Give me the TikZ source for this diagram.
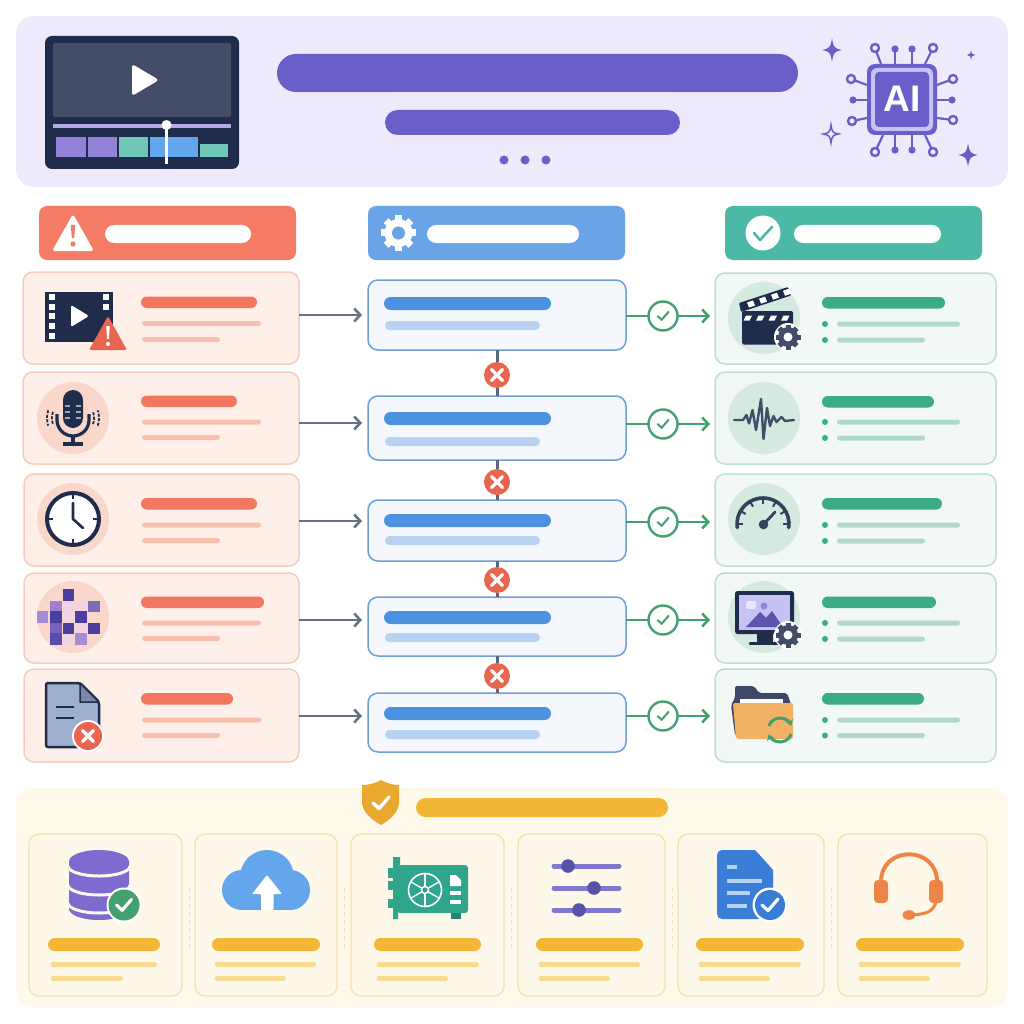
\documentclass[tikz,border=0pt]{standalone}
\usepackage{fontspec}
\setsansfont{Liberation Sans}
\usetikzlibrary{arrows.meta,calc}
\definecolor{hdrbg}{HTML}{EEEAFB}
\definecolor{violet}{HTML}{6A5FC9}
\definecolor{chipring}{HTML}{C6C2F3}
\definecolor{navy}{HTML}{202C4C}
\definecolor{slate}{HTML}{434D68}
\definecolor{redhead}{HTML}{F47C64}
\definecolor{redcard}{HTML}{FEF0E9}
\definecolor{redline}{HTML}{F5CDBF}
\definecolor{redbar}{HTML}{F17760}
\definecolor{redsub}{HTML}{F8BFAC}
\definecolor{redhalo}{HTML}{F9D7CA}
\definecolor{redmark}{HTML}{E8654F}
\definecolor{bluehead}{HTML}{6AA3E6}
\definecolor{bluecard}{HTML}{F4F8FD}
\definecolor{blueline}{HTML}{6F9FD4}
\definecolor{bluebar}{HTML}{4C92E0}
\definecolor{bluesub}{HTML}{B7D3F1}
\definecolor{greenhead}{HTML}{4BB9A5}
\definecolor{greencard}{HTML}{F1F8F5}
\definecolor{greenline}{HTML}{C0DDD2}
\definecolor{greenbar}{HTML}{3BAB88}
\definecolor{greensub}{HTML}{B2D8C9}
\definecolor{greenhalo}{HTML}{D4E9E0}
\definecolor{greenlink}{HTML}{43A070}
\definecolor{graylink}{HTML}{667287}
\definecolor{amberbg}{HTML}{FEF9EB}
\definecolor{ambercard}{HTML}{FEF8EA}
\definecolor{amberline}{HTML}{F4E0A8}
\definecolor{amberbar}{HTML}{F3B636}
\definecolor{ambersub}{HTML}{F7DB90}
\definecolor{dbviolet}{HTML}{7E6BD0}
\definecolor{cloudblue}{HTML}{63A6EC}
\definecolor{gpugreen}{HTML}{2FA58B}
\definecolor{docblue}{HTML}{3A7DD6}
\definecolor{docgrey}{HTML}{9DB0CE}
\definecolor{foldergold}{HTML}{F2B266}
\definecolor{headset}{HTML}{EE8548}
\definecolor{shieldgold}{HTML}{E9A92F}
\definecolor{tilepale}{HTML}{F1D3E2}
\tikzset{
  x=1pt,y=-1pt,
  cardbase/.style={draw,line width=1.5pt,rounded corners=10pt,inner sep=0pt,outer sep=0pt},
  redpanel/.style={cardbase,fill=redcard,draw=redline},
  bluepanel/.style={cardbase,fill=bluecard,draw=blueline},
  greenpanel/.style={cardbase,fill=greencard,draw=greenline},
  amberpanel/.style={cardbase,fill=ambercard,draw=amberline,line width=1.3pt},
  grayarrow/.style={draw=graylink,line width=2.6pt,-{Straight Barb[length=6pt,width=13pt]},shorten >=6pt},
  greenarrow/.style={draw=greenlink,line width=2.6pt,-{Straight Barb[length=6pt,width=13pt]},shorten >=5pt},
  greenlead/.style={draw=greenlink,line width=2.6pt},
  downlink/.style={draw=graylink!90!black,line width=3pt},
  okmark/.style={circle,draw=greenlink,line width=2.4pt,fill=white,minimum size=29pt,inner sep=0pt,outer sep=0pt},
  xmark/.style={circle,fill=redmark,minimum size=26pt,inner sep=0pt,outer sep=0pt},
}
% a named rounded panel spanning x1..x2, y1..y2
\newcommand\panelbox[6]{%
  \node[#1,minimum width={(#4)-(#3)},minimum height={(#6)-(#5)}] (#2) at ({((#3)+(#4))/2},{((#5)+(#6))/2}) {};}
% a pill-shaped bar spanning x1..x2, y1..y2
\newcommand\pill[5]{%
  \pgfmathsetmacro\pillr{((#4)-(#3))/2}%
  \fill[#5,rounded corners=\pillr pt] (#1,#3) rectangle (#2,#4);}
% toothed wheel: x, y, radius, body colour, hole colour, hole radius
\newcommand\cog[6]{%
  \foreach \ang in {0,45,...,315}{%
    \fill[#4,rotate around={\ang:(#1,#2)}] ({#1-0.2*#3},{#2-#3}) rectangle ({#1+0.2*#3},#2);}
  \fill[#4] (#1,#2) circle[radius={0.8*#3*1pt}];
  \fill[#5] (#1,#2) circle[radius=#6pt];}
% four-pointed star
\newcommand\sparkpath[3]{%
  [shift={(#1,#2)},scale=#3] (0,-1) .. controls (.12,-.2) and (.2,-.12) .. (.85,0) .. controls (.2,.12) and (.12,.2) .. (0,1) .. controls (-.12,.2) and (-.2,.12) .. (-.85,0) .. controls (-.2,-.12) and (-.12,-.2) .. (0,-1) -- cycle}
% tick inside a badge
\newcommand\tick[5]{\draw[#4,line width=#5pt,line cap=round,line join=round] ({#1-#3},#2) -- ({#1-0.25*#3},{#2+0.7*#3}) -- ({#1+#3},{#2-0.75*#3});}
% cross inside a badge
\newcommand\cross[5]{\draw[#4,line width=#5pt,line cap=round] ({#1-#3},{#2-#3}) -- ({#1+#3},{#2+#3}) ({#1-#3},{#2+#3}) -- ({#1+#3},{#2-#3});}
% circuit pins of the chip: open ring or solid dot
\newcommand\ringpin[4]{\draw[violet,line width=2.2pt,line join=round] (#3,#4) -- (#1,#2); \draw[violet,line width=2.4pt,fill=hdrbg] (#1,#2) circle[radius=4pt];}
\newcommand\dotpin[4]{\draw[violet,line width=2.2pt] (#3,#4) -- (#1,#2); \fill[violet] (#1,#2) circle[radius=3.6pt];}
\begin{document}
\begin{tikzpicture}
\useasboundingbox (0,0) rectangle (1024,1024);
\fill[white] (0,0) rectangle (1024,1024);

% ---- header band ----
\fill[hdrbg,rounded corners=18pt] (16,16) rectangle (1008,187);
\fill[navy,rounded corners=7pt] (45,36) rectangle (239,169);
\fill[slate,rounded corners=2pt] (53,43) rectangle (231,117);
\fill[white,rounded corners=3pt] (132,64) -- (159,80) -- (132,96) -- cycle;
\fill[hdrbg!55!violet] (53,124.5) rectangle (231,128);
\fill[dbviolet!85!white] (56,137) rectangle (85.5,157);
\fill[dbviolet!85!white] (87.5,137) rectangle (117,157);
\fill[greenhead!80!white] (119,137) rectangle (147.5,157);
\fill[cloudblue] (149.5,137) rectangle (198,157);
\fill[greenhead!80!white] (199.5,144) rectangle (228,157);
\draw[white,line width=3pt] (166.5,125) -- (166.5,164);
\fill[white] (166.5,125) circle[radius=5pt];
\pill{277}{798}{54}{92}{violet}
\pill{385}{680}{110}{135}{violet}
\foreach \dx in {504,525,546}{\fill[violet] (\dx,160) circle[radius=4.5pt];}

% chip emblem
\ringpin{875}{48}{881}{64}
\dotpin{895}{49}{895}{64}
\dotpin{912}{49}{912}{64}
\ringpin{933}{48}{925}{64}
\ringpin{851}{79}{867}{85}
\dotpin{853}{100}{867}{100}
\ringpin{852}{121}{867}{118}
\ringpin{953}{79}{937}{85}
\dotpin{952}{100}{937}{100}
\ringpin{953}{120}{937}{118}
\ringpin{875}{152}{883}{135}
\dotpin{895}{150}{895}{135}
\dotpin{912}{150}{912}{135}
\ringpin{933}{152}{925}{135}
\fill[violet,rounded corners=8pt] (867,64) rectangle (937,135);
\fill[chipring,rounded corners=6pt] (871,68) rectangle (933,131);
\fill[violet,rounded corners=4pt] (875,72) rectangle (929,127);
\node[text=white,font=\sffamily\bfseries\fontsize{37}{37}\selectfont,inner sep=0pt] (chiplabel) at (902,99) {AI};
\fill[violet] \sparkpath{832}{50}{12};
\fill[violet] \sparkpath{971}{55}{5};
\fill[violet] \sparkpath{968}{155}{12};
\draw[violet,line width=1.5pt,fill=hdrbg] \sparkpath{831}{134}{9};

% ---- column heads ----
\fill[redhead,rounded corners=8pt] (39,206) rectangle (296,260);
\fill[white,rounded corners=3pt] (73,214) -- (94,251) -- (52,251) -- cycle;
\fill[redhead] (70.8,225) -- (75.2,225) -- (74.2,238) -- (71.8,238) -- cycle;
\fill[redhead] (73,244) circle[radius=2.6pt];
\pill{105}{251}{225}{243}{white}

\fill[bluehead,rounded corners=8pt] (368,206) rectangle (625,260);
\cog{398.5}{233}{17.5}{white}{bluehead}{6.5}
\pill{427}{579}{225}{243}{white}

\fill[greenhead,rounded corners=8pt] (725,206) rectangle (982,260);
\fill[white] (763,233) circle[radius=17.5pt];
\draw[greenhead,line width=2.6pt,line cap=round,line join=round] (754,233) -- (760,240) -- (772,227);
\pill{794}{941}{225}{243}{white}

% ---- problem cards ----
\panelbox{redpanel}{p1}{23}{299}{272}{364}
\panelbox{redpanel}{p2}{23}{299}{372}{464}
\panelbox{redpanel}{p3}{24}{299}{474}{566}
\panelbox{redpanel}{p4}{24}{299}{573}{663}
\panelbox{redpanel}{p5}{24}{299}{669}{762}
\foreach \xe/\ya/\yb/\yc in {257/296.5/323.5/339.5, 237/395.5/422/437.5, 257/498/525/540.5, 264/596.5/623/638.5, 233/693/720/735.5}{
  \pill{141}{\xe}{\ya}{\ya+11.5}{redbar}
  \pill{142}{261}{\yb-2.5}{\yb+2.5}{redsub}
  \pill{142}{220}{\yc-2.5}{\yc+2.5}{redsub}
}

% film strip with warning
\fill[navy] (45,292) rectangle (113,342);
\foreach \py in {297,307,316,326,336}{\fill[white] (49,\py-3) rectangle (55,\py+3);}
\foreach \py in {297,307}{\fill[white] (103,\py-3) rectangle (109,\py+3);}
\fill[white,rounded corners=1.5pt] (71,305) -- (89,316) -- (71,327) -- cycle;
\fill[redmark,rounded corners=1.5pt] (108,316) -- (127,350) -- (89,350) -- cycle;
\fill[white] (106.3,326) -- (109.7,326) -- (109,339) -- (107,339) -- cycle;
\fill[white] (108,344) circle[radius=2.1pt];

% microphone
\fill[redhalo] (73,418) circle[radius=36pt];
\fill[navy,rounded corners=10pt] (63,390) rectangle (83,428);
\foreach \gy in {406,412,418}{
  \draw[slate!50!white,line width=1.2pt] (65,\gy) -- (70,\gy) (76,\gy) -- (81,\gy);}
\draw[navy,line width=3.2pt] (57,414) -- (57,420) arc[start angle=180,end angle=360,radius=16pt] -- (89,414);
\draw[navy,line width=3.2pt] (73,436) -- (73,444);
\draw[navy,line width=3.2pt] (63,444) -- (83,444);
\foreach \rr in {21,26}{
  \draw[navy,line width=1.8pt,dash pattern=on 3pt off 1.5pt] ($(73,418)+(163:\rr pt)$) arc[start angle=163,end angle=197,radius=\rr pt];
  \draw[navy,line width=1.8pt,dash pattern=on 3pt off 1.5pt] ($(73,418)+(-17:\rr pt)$) arc[start angle=-17,end angle=17,radius=\rr pt];
}

% clock
\fill[redhalo] (73,519) circle[radius=36pt];
\draw[navy,line width=4pt,fill=white] (73,519) circle[radius=26pt];
\draw[navy,line width=2pt] (73,493) -- (73,499) (73,539) -- (73,545) (47,519) -- (53,519) (93,519) -- (99,519);
\draw[navy,line width=2.6pt,line join=round,line cap=round] (73,503) -- (73,519) -- (83,528);

% pixelated tile
\fill[redhalo] (73,617) circle[radius=36pt];
\foreach \zx/\zy in {128/392,166/392,128/424,166/458,128/490}{
  \fill[tilepale] ({20+\zx/3},{470+\zy/3}) rectangle ++(11.5,11.5);}
\foreach \zx/\zy/\cc in {128/358/4B3F9E,90/392/9A80CE,204/392/7F6CB8,50/424/A68BD8,90/424/4B3F9E,166/424/4B3F9E,90/458/7A62BC,128/458/4B3F9E,204/458/4B3F9E,90/490/5A4CAC,166/490/A68BD8}{
  \definecolor{tilec}{HTML}{\cc}
  \fill[tilec] ({20+\zx/3},{470+\zy/3}) rectangle ++(11.5,11.5);}

% damaged document
\draw[navy,line width=2.5pt,fill=docgrey,rounded corners=2pt] (46,683) -- (80,683) -- (99,702) -- (99,747) -- (46,747) -- cycle;
\fill[docgrey!70!navy,draw=navy,line width=1.5pt,line join=round] (80,683) -- (80,702) -- (99,702) -- cycle;
\draw[navy,line width=2.4pt] (56,707) -- (74,707) (56,718) -- (74,718);
\fill[white] (88,736) circle[radius=16pt];
\fill[redmark] (88,736) circle[radius=14pt];
\cross{88}{736}{5.5}{white}{3.2}

% ---- process column ----
\panelbox{bluepanel}{m1}{368}{626}{280}{350}
\panelbox{bluepanel}{m2}{368}{626}{396}{460}
\panelbox{bluepanel}{m3}{368}{626}{500}{561}
\panelbox{bluepanel}{m4}{368}{626}{597}{656}
\panelbox{bluepanel}{m5}{368}{626}{693}{752}
\foreach \ya/\yb in {297/321,412/437,514/536,611/633,707/730}{
  \pill{384}{551}{\ya}{\ya+13}{bluebar}
  \pill{385}{540}{\yb}{\yb+9}{bluesub}
}

% ---- outcome cards ----
\panelbox{greenpanel}{r1}{715}{996}{273}{364}
\panelbox{greenpanel}{r2}{715}{996}{372}{464}
\panelbox{greenpanel}{r3}{715}{996}{474}{566}
\panelbox{greenpanel}{r4}{715}{996}{573}{663}
\panelbox{greenpanel}{r5}{715}{996}{669}{762}
\foreach \xe/\ya/\yb/\yc in {945/297/324/340, 934/396/422/438, 942/498/525/541, 936/596.5/623/639, 924/693/720/735.5}{
  \pill{822}{\xe}{\ya}{\ya+11.5}{greenbar}
  \fill[greenbar] (825,\yb) circle[radius=3pt];
  \fill[greenbar] (825,\yc) circle[radius=3pt];
  \pill{837}{960}{\yb-2.5}{\yb+2.5}{greensub}
  \pill{837}{925}{\yc-2.5}{\yc+2.5}{greensub}
}

% clapperboard
\fill[greenhalo] (764,318) circle[radius=36pt];
\fill[navy,rounded corners=1.5pt] (742,311) rectangle (793,344.5);
\fill[navy,rounded corners=1pt] (739,303) -- (788,287) -- (791,295.5) -- (741,312) -- cycle;
\foreach \sx in {0,1,2,3}{
  \fill[white] ({746+\sx*12.5},315.5) -- ({752+\sx*12.5},315.5) -- ({749.5+\sx*12.5},320.5) -- ({743.5+\sx*12.5},320.5) -- cycle;
  \fill[white] ({747+\sx*12},{302.5-\sx*3.9}) -- ({753+\sx*12},{300.5-\sx*3.9}) -- ({755+\sx*12},{305.5-\sx*3.9}) -- ({749+\sx*12},{307.5-\sx*3.9}) -- cycle;
}
\fill[white] (788,337) circle[radius=14pt];
\cog{788}{337}{12.5}{slate}{white}{4.5}

% waveform
\fill[greenhalo] (764,418) circle[radius=36pt];
\draw[slate,line width=2.4pt,line join=round,line cap=round] (734,420) -- (743,420) -- (746.5,415) -- (749,423.5) -- (752.5,410) -- (756,430) -- (761,399) -- (763.5,439) -- (767,408) -- (770,426) -- (773.5,416) -- (776.5,422) -- (781.5,417) -- (785,421) -- (794,420);

% gauge
\fill[greenhalo] (764,519) circle[radius=36pt];
\draw[slate!60!navy,line width=3.6pt,line cap=round] ($(763,524)+(188:26pt)$) arc[start angle=188,end angle=-8,radius=26pt];
\foreach \tk in {180,150,120,90,60,30,0}{
  \draw[slate!60!navy,line width=2pt] ($(763,524)+(\tk:26pt)$) -- ($(763,524)+(\tk:20pt)$);}
\fill[slate!60!navy] (763.5,524.5) circle[radius=4.8pt];
\draw[slate!60!navy,line width=2.8pt,line cap=round] (764,524) -- (775,512);

% monitor with landscape
\fill[greenhalo] (764,617) circle[radius=36pt];
\fill[navy] (757,632) rectangle (773,642);
\draw[navy,line width=3pt,line cap=round] (750,643) -- (779,643);
\fill[navy,rounded corners=2.5pt] (735,591) rectangle (794,634);
\fill[chipring] (739,595) rectangle (790,630);
\fill[violet!80!navy] (746,627) -- (760,612) -- (766,618) -- (772,611) -- (783,627) -- cycle;
\fill[violet!75!white] (764,606) circle[radius=3.4pt];
\fill[white!85!violet,rounded corners=1.5pt] (746,601) rectangle (756,609);
\fill[white] (788,635) circle[radius=14pt];
\cog{788}{635}{12.5}{slate}{white}{4.5}

% folder with sync arrows
\fill[slate!85!navy,rounded corners=2pt] (731,705) -- (735,698) -- (735,686) -- (754,686) -- (759,693) -- (787,693) -- (791,704) -- (791,730) -- (735,735) -- cycle;
\fill[white] (740,699) rectangle (783,706);
\fill[foldergold,rounded corners=2pt] (733,703) -- (793,703) -- (793,739) -- (736,739) -- cycle;
\draw[greenlink,line width=3pt,-{Stealth[length=6pt,width=8pt]}] ($(780,730)+(160:12pt)$) arc[start angle=160,end angle=20,radius=12pt];
\draw[greenlink,line width=3pt,-{Stealth[length=6pt,width=8pt]}] ($(780,730)+(-20:12pt)$) arc[start angle=-20,end angle=-160,radius=12pt];

% ---- links between columns ----
\foreach \i/\yy in {1/315,2/423,3/521,4/620,5/716}{
  \coordinate (a\i) at (331,\yy);
  \draw[grayarrow] (p\i.east |- a\i) -- (m\i.west |- a\i);
}
\node[xmark] (x1) at (497,375) {};
\node[xmark] (x2) at (497,482) {};
\node[xmark] (x3) at (497,580) {};
\node[xmark] (x4) at (497,676) {};
\foreach \i/\j in {1/2,2/3,3/4,4/5}{
  \draw[downlink] (m\i.south) -- (x\i.north);
  \draw[downlink] (x\i.south) -- (m\j.north);
}
\cross{497}{375}{5.5}{white}{3.2}
\cross{497}{482}{5.5}{white}{3.2}
\cross{497}{580}{5.5}{white}{3.2}
\cross{497}{676}{5.5}{white}{3.2}
\foreach \i/\yy in {1/316,2/424,3/522,4/620,5/716}{
  \node[okmark] (ok\i) at (663,\yy) {};
  \draw[greenlead] (m\i.east |- ok\i) -- (ok\i);
  \draw[greenarrow] (ok\i) -- (r\i.west |- ok\i);
  \tick{663}{\yy}{5.5}{greenlink}{2}
}

% ---- base band ----
\fill[amberbg,rounded corners=18pt] (16,788) rectangle (1008,1008);
\fill[shieldgold] (381,780) .. controls (388,784) and (394,785) .. (399,785) -- (399,802) .. controls (399,812) and (390,820) .. (381,825) .. controls (372,820) and (362,812) .. (362,802) -- (362,785) .. controls (368,785) and (374,784) .. (381,780) -- cycle;
\tick{381}{803}{8}{white}{3.4}
\pill{416}{668}{798}{817}{amberbar}

\panelbox{amberpanel}{b1}{29}{182}{834}{996}
\panelbox{amberpanel}{b2}{195}{337}{834}{996}
\panelbox{amberpanel}{b3}{351}{504}{834}{996}
\panelbox{amberpanel}{b4}{518}{665}{834}{996}
\panelbox{amberpanel}{b5}{678}{824}{834}{996}
\panelbox{amberpanel}{b6}{838}{987}{834}{996}
\foreach \sx in {189,344,511,672,831}{
  \draw[amberline,line width=.8pt,dash pattern=on 4pt off 4pt] (\sx,888) -- (\sx,950);}
\foreach \xa/\xb/\xc/\xd in {48/160/157/123, 212/320/316/286, 374/481/479/448, 536/643/640/610, 696/804/801/770, 856/964/961/930}{
  \pill{\xa}{\xb}{938}{951}{amberbar}
  \pill{\xa+2.5}{\xc}{962}{967}{ambersub}
  \pill{\xa+2.5}{\xd}{976}{981}{ambersub}
}

% database
\fill[dbviolet] (69,861) -- (69,909) arc[start angle=180,end angle=360,x radius=30pt,y radius=11pt] -- (129,861) -- cycle;
\fill[dbviolet] (99,861.5) ellipse[x radius=30pt,y radius=11.5pt];
\foreach \ly in {866,885,903}{
  \draw[ambercard,line width=3pt] (68,\ly) arc[start angle=180,end angle=360,x radius=31pt,y radius=10pt];}
\fill[white] (124,905) circle[radius=17.5pt];
\fill[greenlink] (124,905) circle[radius=15.5pt];
\tick{124}{905}{7.5}{white}{3.2}

% upload cloud
\fill[cloudblue] (267,877) circle[radius=27pt];
\fill[cloudblue] (242,890) circle[radius=20pt];
\fill[cloudblue] (290,890) circle[radius=20pt];
\fill[cloudblue] (242,875) rectangle (290,910);
\fill[white,rounded corners=1pt] (267,875) -- (282,894) -- (273.5,894) -- (273.5,910) -- (261,910) -- (261,894) -- (252,894) -- cycle;

% graphics card
\fill[gpugreen] (388,868) rectangle (394,878);
\fill[gpugreen] (388,881) rectangle (394,890);
\fill[gpugreen] (388,899) rectangle (394,908);
\fill[gpugreen] (393,857) -- (400,857) -- (400,865) -- (398,865) -- (398,919) -- (393,919) -- cycle;
\fill[gpugreen!80!black] (451,912) rectangle (461,919);
\fill[gpugreen,rounded corners=3pt] (397,865) rectangle (468,913);
\draw[white,line width=1.6pt] (425,890) circle[radius=16.5pt];
\draw[white,line width=1.4pt] (425,890) circle[radius=3.5pt];
\foreach \sp in {30,90,...,330}{\draw[white,line width=1.4pt] ($(425,890)+(\sp:3.5pt)$) -- ($(425,890)+(\sp:16pt)$);}
\fill[white] (450,875) -- (456,875) -- (461,880) -- (461,886) -- (450,886) -- cycle;
\fill[white] (450,890.5) rectangle (461,895);
\fill[white] (450,899.5) rectangle (461,904);

% sliders
\foreach \sy/\kx in {866/568,888/594,910/579}{
  \draw[violet!85!white,line width=5pt,line cap=round] (554,\sy) -- (619,\sy);
  \fill[violet!75!navy] (\kx,\sy) circle[radius=6.8pt];
}

% checked document
\fill[docblue,rounded corners=5pt] (717,850) -- (755,850) -- (773,870) -- (773,919) -- (717,919) -- cycle;
\fill[docblue] (745,850) -- (755,850) -- (773,870) -- (773,880) -- cycle;
\draw[bluesub,line width=3.6pt] (727,867) -- (737,867) (727,881) -- (762,881) (727,893) -- (750,893) (727,906) -- (747,906);
\fill[white] (770,905) circle[radius=17.5pt];
\fill[docblue] (770,905) circle[radius=15pt];
\tick{770}{905}{8}{white}{3.2}

% headset
\draw[headset,line width=4pt] (881,882) .. controls (881,845) and (937,845) .. (937,882);
\fill[headset,rounded corners=4pt] (874,880) rectangle (888,903);
\fill[headset,rounded corners=4pt] (929,880) rectangle (943,903);
\draw[headset,line width=3pt] (936,902) .. controls (933,912) and (926,914) .. (912,915);
\fill[headset] (909,915) ellipse[x radius=6.5pt,y radius=4.8pt];
\end{tikzpicture}
\end{document}
